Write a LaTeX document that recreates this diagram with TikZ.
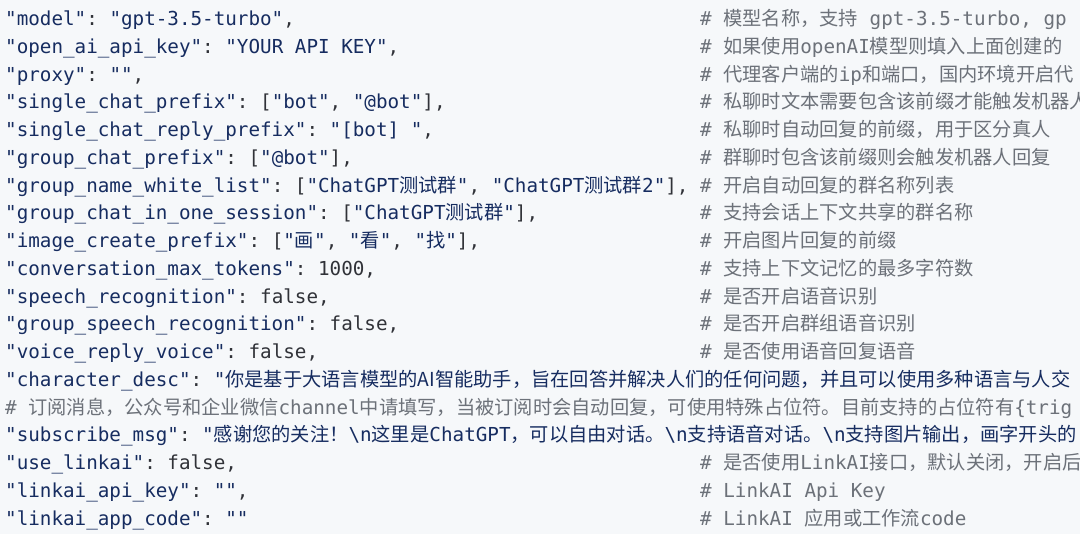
\documentclass[tikz,border=0pt]{standalone}
\usepackage{fontspec}
\setmonofont{DejaVu Sans Mono}
\newfontfamily\CJfont{Noto Sans CJK SC}
\definecolor{navyc}{RGB}{22,44,96}
\definecolor{puncc}{RGB}{48,50,56}
\definecolor{cmtc}{RGB}{108,113,121}
\definecolor{bgc}{RGB}{246,248,250}
\newcommand\Sk[1]{\textcolor{navyc}{#1}}
\newcommand\Zh[1]{{\CJfont #1}}
\tikzset{
  code/.style={font=\ttfamily\fontsize{19.25bp}{27.75bp}\selectfont, anchor=base west, inner sep=0pt, text=puncc},
  cmt/.style={code, text=cmtc}
}
\begin{document}
\begin{tikzpicture}
\useasboundingbox (0,0) rectangle (1080bp,-534bp);
\fill[bgc] (0,0) rectangle (1080bp,-534bp);
\clip (0,0) rectangle (1080bp,-534bp);
% code lines
\node[code] (l1) at (5bp,-25.5bp) {\Sk{"model"}: \Sk{"gpt-3.5-turbo"},};
\node[code] (l2) at (5bp,-53.25bp) {\Sk{"open\_ai\_api\_key"}: \Sk{"YOUR API KEY"},};
\node[code] (l3) at (5bp,-81bp) {\Sk{"proxy"}: \Sk{""},};
\node[code] (l4) at (5bp,-108.75bp) {\Sk{"single\_chat\_prefix"}: [\Sk{"bot"}, \Sk{"@bot"}],};
\node[code] (l5) at (5bp,-136.5bp) {\Sk{"single\_chat\_reply\_prefix"}: \Sk{"[bot] "},};
\node[code] (l6) at (5bp,-164.25bp) {\Sk{"group\_chat\_prefix"}: [\Sk{"@bot"}],};
\node[code] (l7) at (5bp,-192bp) {\Sk{"group\_name\_white\_list"}: [\Sk{"ChatGPT\Zh{测试群}"}, \Sk{"ChatGPT\Zh{测试群}2"}],};
\node[code] (l8) at (5bp,-219.75bp) {\Sk{"group\_chat\_in\_one\_session"}: [\Sk{"ChatGPT\Zh{测试群}"}],};
\node[code] (l9) at (5bp,-247.5bp) {\Sk{"image\_create\_prefix"}: [\Sk{"\Zh{画}"}, \Sk{"\Zh{看}"}, \Sk{"\Zh{找}"}],};
\node[code] (l10) at (5bp,-275.25bp) {\Sk{"conversation\_max\_tokens"}: 1000,};
\node[code] (l11) at (5bp,-303bp) {\Sk{"speech\_recognition"}: false,};
\node[code] (l12) at (5bp,-330.75bp) {\Sk{"group\_speech\_recognition"}: false,};
\node[code] (l13) at (5bp,-358.5bp) {\Sk{"voice\_reply\_voice"}: false,};
\node[code] (l14) at (5bp,-386.25bp) {\Sk{"character\_desc"}: \Sk{"\Zh{你是基于大语言模型的AI智能助手，旨在回答并解决人们的任何问题，并且可以使用多种语言与人交}}};
\node[cmt] (l15) at (5bp,-414bp) {\# \Zh{订阅消息，公众号和企业微信}channel\Zh{中请填写，当被订阅时会自动回复，可使用特殊占位符。目前支持的占位符有}\{trig};
\node[code] (l16) at (5bp,-441.75bp) {\Sk{"subscribe\_msg"}: \Sk{"\Zh{感谢您的关注！}\textbackslash n\Zh{这里是}ChatGPT\Zh{，可以自由对话。}\textbackslash n\Zh{支持语音对话。}\textbackslash n\Zh{支持图片输出，画字开头的}}};
\node[code] (l17) at (5bp,-469.5bp) {\Sk{"use\_linkai"}: false,};
\node[code] (l18) at (5bp,-497.25bp) {\Sk{"linkai\_api\_key"}: \Sk{""},};
\node[code] (l19) at (5bp,-525bp) {\Sk{"linkai\_app\_code"}: \Sk{""}};
% comments
\node[cmt] (c1) at (700bp,-25.5bp) {\# \Zh{模型名称，支持} gpt-3.5-turbo, gp};
\node[cmt] (c2) at (700bp,-53.25bp) {\# \Zh{如果使用}openAI\Zh{模型则填入上面创建的}};
\node[cmt] (c3) at (700bp,-81bp) {\# \Zh{代理客户端的}ip\Zh{和端口，国内环境开启代}};
\node[cmt] (c4) at (700bp,-108.75bp) {\# \Zh{私聊时文本需要包含该前缀才能触发机器人}};
\node[cmt] (c5) at (700bp,-136.5bp) {\# \Zh{私聊时自动回复的前缀，用于区分真人}};
\node[cmt] (c6) at (700bp,-164.25bp) {\# \Zh{群聊时包含该前缀则会触发机器人回复}};
\node[cmt] (c7) at (700bp,-192bp) {\# \Zh{开启自动回复的群名称列表}};
\node[cmt] (c8) at (700bp,-219.75bp) {\# \Zh{支持会话上下文共享的群名称}};
\node[cmt] (c9) at (700bp,-247.5bp) {\# \Zh{开启图片回复的前缀}};
\node[cmt] (c10) at (700bp,-275.25bp) {\# \Zh{支持上下文记忆的最多字符数}};
\node[cmt] (c11) at (700bp,-303bp) {\# \Zh{是否开启语音识别}};
\node[cmt] (c12) at (700bp,-330.75bp) {\# \Zh{是否开启群组语音识别}};
\node[cmt] (c13) at (700bp,-358.5bp) {\# \Zh{是否使用语音回复语音}};
\node[cmt] (c17) at (700bp,-469.5bp) {\# \Zh{是否使用}LinkAI\Zh{接口，默认关闭，开启后}};
\node[cmt] (c18) at (700bp,-497.25bp) {\# LinkAI Api Key};
\node[cmt] (c19) at (700bp,-525bp) {\# LinkAI \Zh{应用或工作流}code};
\end{tikzpicture}
\end{document}
